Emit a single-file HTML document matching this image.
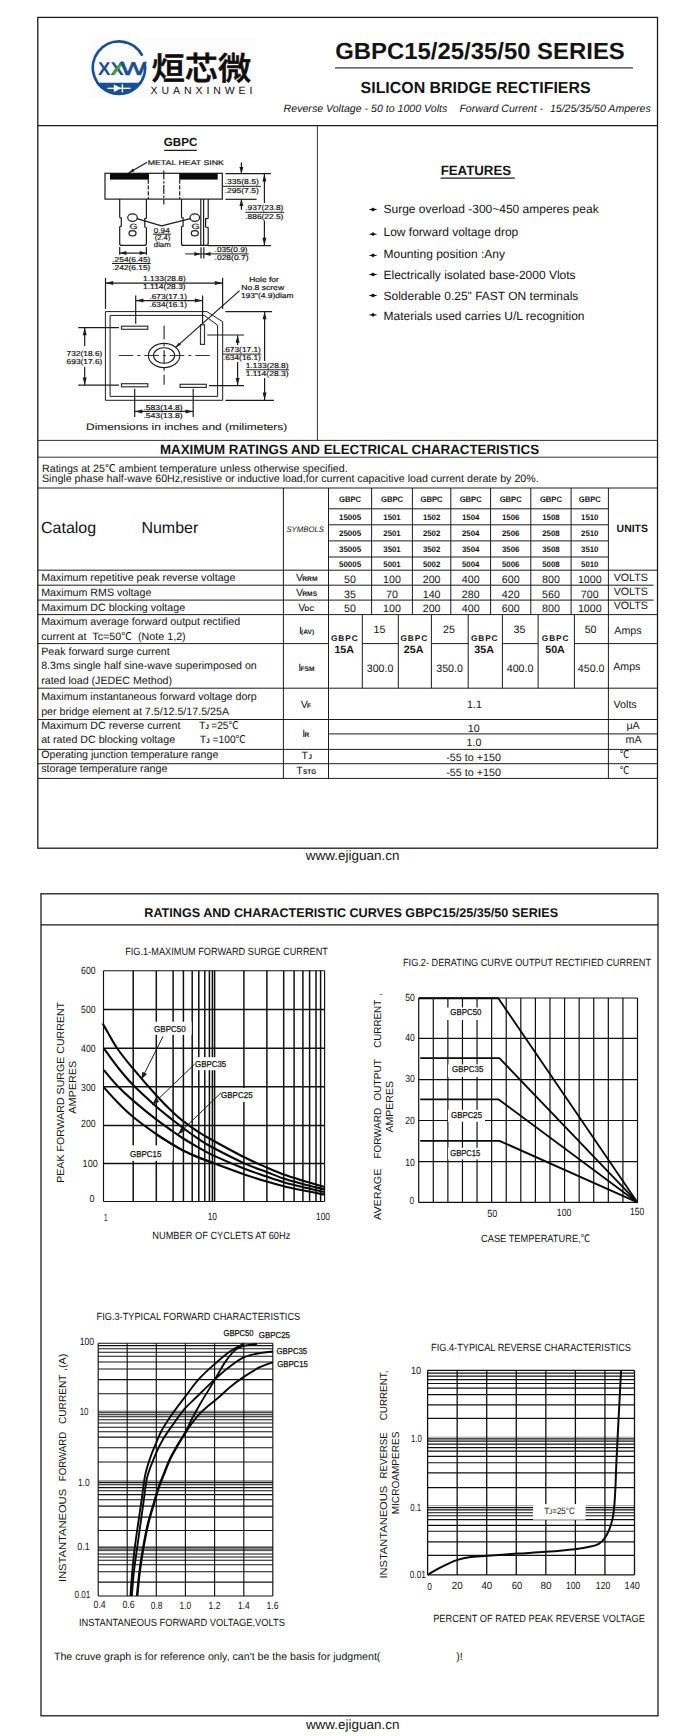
<!DOCTYPE html>
<html lang="en">
<head>
<meta charset="utf-8">
<title>GBPC15/25/35/50 SERIES - Silicon Bridge Rectifiers</title>
<style>
html,body{margin:0;padding:0;background:#fff}
body{width:694px;height:1736px;overflow:hidden;position:relative}
svg{display:block;position:absolute;left:0;top:0}
svg text{font-family:"Liberation Sans","Noto Sans CJK SC",sans-serif;fill:#141414;white-space:pre;text-rendering:geometricPrecision}
</style>
</head>
<body>
<svg width="694" height="1736" viewBox="0 0 694 1736">
<g id="page1-frame">
<rect x="37.8" y="17.4" width="619.7" height="830.8" fill="none" stroke="#1c1c1c" stroke-width="1.3"/>
<line x1="37.8" y1="125.6" x2="657.5" y2="125.6" stroke="#1c1c1c" stroke-width="1.2"/>
<line x1="317.4" y1="125.6" x2="317.4" y2="440.4" stroke="#1c1c1c" stroke-width="0.9"/>
</g>
<g id="logo">
<rect x="89.5" y="38.5" width="166" height="60" fill="#fcfcfc"/>
<path d="M144.53 61.71 A26.2 26.2 0 1 1 142.34 55.71" fill="none" stroke="#1b4f93" stroke-width="2.7"/>
<path d="M141.98 82.7 A27.5 27.5 0 0 1 96.02 82.7 Z" fill="#1b4f93"/>
<line x1="107.5" y1="88.3" x2="130.5" y2="88.3" stroke="#ffffff" stroke-width="1.3"/>
<polygon points="113.8,84.6 113.8,92 121.6,88.3" fill="#fff"/>
<line x1="122.4" y1="84.3" x2="122.4" y2="92.3" stroke="#ffffff" stroke-width="1.4"/>
<text x="98" y="74.5" font-size="18.4" font-weight="bold" style="fill:#1b4f93" textLength="12.4" lengthAdjust="spacingAndGlyphs">X</text>
<text x="110.6" y="74.5" font-size="18.4" font-weight="bold" style="fill:#1b4f93" textLength="13.2" lengthAdjust="spacingAndGlyphs">X</text>
<line x1="123" y1="61.6" x2="113" y2="74.4" stroke="#3aa63c" stroke-width="3"/>
<text x="120.4" y="74.5" font-size="18.4" style="fill:#1b4f93" stroke="#1b4f93" stroke-width="0.7" textLength="25.6" lengthAdjust="spacingAndGlyphs">W</text>
<text x="151.6" y="80" font-size="32.2" font-weight="500" style="fill:#0d0d0d" font-family='"Liberation Sans","Noto Sans CJK SC",sans-serif' stroke="#0d0d0d" stroke-width="0.6" textLength="99.6" lengthAdjust="spacingAndGlyphs">烜芯微</text>
<text x="150.6" y="93.5" font-size="10.5" style="fill:#0d0d0d" textLength="101.8" lengthAdjust="spacing">XUANXINWEI</text>
</g>
<g id="title">
<text x="335.2" y="58.5" font-size="23.4" font-weight="bold" textLength="289.6" lengthAdjust="spacingAndGlyphs">GBPC15/25/35/50 SERIES</text>
<line x1="335" y1="67.9" x2="633" y2="67.9" stroke="#3a3a3a" stroke-width="1.3"/>
<text x="360.6" y="92.6" font-size="16" font-weight="bold" textLength="230" lengthAdjust="spacingAndGlyphs">SILICON BRIDGE RECTIFIERS</text>
<text x="283.6" y="112.4" font-size="10.62" font-style="italic" textLength="163.7" lengthAdjust="spacingAndGlyphs">Reverse Voltage - 50 to 1000 Volts</text>
<text x="459.4" y="112.4" font-size="10.62" font-style="italic">Forward Current -</text>
<text x="549.9" y="112.4" font-size="10.62" font-style="italic" textLength="100.8" lengthAdjust="spacingAndGlyphs">15/25/35/50 Amperes</text>
</g>
<g id="features">
<text x="440.7" y="174.9" font-size="13.33" font-weight="bold" textLength="70.4" lengthAdjust="spacingAndGlyphs">FEATURES</text>
<line x1="440.6" y1="178.1" x2="514.8" y2="178.1" stroke="#1c1c1c" stroke-width="1.3"/>
<polygon points="368.6,209.5 371.8,208.6 373,207.4 374.2,208.6 377.4,209.5 374.2,210.4 373,211.6 371.8,210.4" fill="#111"/>
<text x="383.5" y="212.6" font-size="12">Surge overload -300~450 amperes peak</text>
<polygon points="368.6,234.2 371.8,233.3 373,232.1 374.2,233.3 377.4,234.2 374.2,235.1 373,236.3 371.8,235.1" fill="#111"/>
<text x="383.5" y="236.1" font-size="12">Low forward voltage drop</text>
<polygon points="368.6,255.4 371.8,254.5 373,253.3 374.2,254.5 377.4,255.4 374.2,256.3 373,257.5 371.8,256.3" fill="#111"/>
<text x="383.5" y="257.9" font-size="12">Mounting position :Any</text>
<polygon points="368.6,274.5 371.8,273.6 373,272.4 374.2,273.6 377.4,274.5 374.2,275.4 373,276.6 371.8,275.4" fill="#111"/>
<text x="383.5" y="278.8" font-size="12">Electrically isolated base-2000 Vlots</text>
<polygon points="368.6,295.5 371.8,294.6 373,293.4 374.2,294.6 377.4,295.5 374.2,296.4 373,297.6 371.8,296.4" fill="#111"/>
<text x="383.5" y="300.4" font-size="12">Solderable 0.25" FAST ON terminals</text>
<polygon points="368.6,314.9 371.8,314 373,312.8 374.2,314 377.4,314.9 374.2,315.8 373,317 371.8,315.8" fill="#111"/>
<text x="383.5" y="319.5" font-size="12">Materials used carries U/L recognition</text>
</g>
<g id="package-drawing">
<text x="163.8" y="145.9" font-size="11.7" font-weight="bold" textLength="33.6" lengthAdjust="spacingAndGlyphs">GBPC</text>
<line x1="164.2" y1="150.4" x2="196.8" y2="150.4" stroke="#1c1c1c" stroke-width="1.1"/>
<g id="side-view">
<text x="147.7" y="164.7" font-size="6.9" stroke="#141414" stroke-width="0.18" textLength="76.3" lengthAdjust="spacingAndGlyphs">METAL HEAT SINK</text>
<line x1="147.2" y1="162.3" x2="128.6" y2="172.9" stroke="#1c1c1c" stroke-width="1.2"/><polygon points="128.6,172.9 133.02,168.54 134.61,171.32" fill="#1c1c1c"/>
<rect x="105" y="173.3" width="117.3" height="25.8" fill="none" stroke="#1c1c1c" stroke-width="1.2"/>
<rect x="110" y="173.3" width="39" height="6.3" fill="#0a0a0a"/>
<rect x="179.2" y="173.3" width="38.5" height="6.3" fill="#0a0a0a"/>
<line x1="148.3" y1="179.6" x2="148.3" y2="199.1" stroke="#1c1c1c" stroke-width="1.2" stroke-dasharray="4.2 1.6"/>
<line x1="179.7" y1="179.6" x2="179.7" y2="199.1" stroke="#1c1c1c" stroke-width="1.2" stroke-dasharray="4.2 1.6"/>
<line x1="163.8" y1="170.6" x2="163.8" y2="204.6" stroke="#1c1c1c" stroke-width="1.2" stroke-dasharray="9 1.6 2.2 1.6"/>
<path d="M119.7 199.1 V216.9 q0 0.9 1.6 0.9 V226.1 q-1.6 0 -1.6 0.9 V243.4 q0 2 2 2 H144.4 q2 0 2 -2 V227.9 q0 -0.9 -1.6 -0.9 V218.7 q1.6 0 1.6 -0.9 V199.1" fill="none" stroke="#1c1c1c" stroke-width="1.2"/>
<path d="M181.5 199.1 V216.9 q0 0.9 1.6 0.9 V226.1 q-1.6 0 -1.6 0.9 V243.4 q0 2 2 2 H206.2 q2 0 2 -2 V227.9 q0 -0.9 -2.6 -0.9 V218.7 q2.6 0 2.6 -0.9 V199.1" fill="none" stroke="#1c1c1c" stroke-width="1.2"/>
<line x1="200.8" y1="199.1" x2="200.8" y2="245.4" stroke="#1c1c1c" stroke-width="1.2"/>
<line x1="203.6" y1="199.1" x2="203.6" y2="245.4" stroke="#1c1c1c" stroke-width="1.2"/>
<ellipse cx="132.5" cy="217.6" rx="4.8" ry="3.8" fill="none" stroke="#1c1c1c" stroke-width="1.2"/>
<ellipse cx="132.5" cy="233.3" rx="3.5" ry="2.6" fill="none" stroke="#1c1c1c" stroke-width="1.2"/>
<ellipse cx="194.8" cy="217.6" rx="4.8" ry="3.8" fill="none" stroke="#1c1c1c" stroke-width="1.2"/>
<ellipse cx="194.8" cy="233.3" rx="3.5" ry="2.6" fill="none" stroke="#1c1c1c" stroke-width="1.2"/>
<text x="129.6" y="228.5" font-size="7.6" stroke="#141414" stroke-width="0.18" textLength="8" lengthAdjust="spacingAndGlyphs">G</text>
<text x="191.5" y="228.5" font-size="7.6" stroke="#141414" stroke-width="0.18" textLength="8.2" lengthAdjust="spacingAndGlyphs">G</text>
<path d="M136.9 218.7 L161.6 225.8 L190.3 218.7" fill="none" stroke="#1c1c1c" stroke-width="1.2" stroke-linejoin="round"/>
<text x="153.8" y="232.7" font-size="7.2" stroke="#141414" stroke-width="0.18" textLength="15.9" lengthAdjust="spacingAndGlyphs">0.94</text>
<line x1="152.9" y1="234.2" x2="171.1" y2="234.2" stroke="#1c1c1c" stroke-width="1"/>
<text x="154.7" y="239.7" font-size="7.2" stroke="#141414" stroke-width="0.18" textLength="15.5" lengthAdjust="spacingAndGlyphs">(2.4)</text>
<text x="153.8" y="246.5" font-size="7.2" stroke="#141414" stroke-width="0.18" textLength="16.9" lengthAdjust="spacingAndGlyphs">diam</text>
<line x1="119.7" y1="247" x2="119.7" y2="254.8" stroke="#1c1c1c" stroke-width="1.2"/>
<line x1="146.4" y1="247" x2="146.4" y2="254.8" stroke="#1c1c1c" stroke-width="1.2"/>
<line x1="133" y1="253.1" x2="119.9" y2="253.1" stroke="#1c1c1c" stroke-width="1.2"/><polygon points="119.9,253.1 126.4,251.1 126.4,255.1" fill="#1c1c1c"/>
<line x1="133" y1="253.1" x2="146.2" y2="253.1" stroke="#1c1c1c" stroke-width="1.2"/><polygon points="146.2,253.1 139.7,255.1 139.7,251.1" fill="#1c1c1c"/>
<text x="112.3" y="261.8" font-size="7.2" stroke="#141414" stroke-width="0.18" textLength="38" lengthAdjust="spacingAndGlyphs">.254(6.45)</text>
<line x1="112" y1="263.5" x2="150.7" y2="263.5" stroke="#1c1c1c" stroke-width="1"/>
<text x="112.3" y="270.1" font-size="7.2" stroke="#141414" stroke-width="0.18" textLength="38" lengthAdjust="spacingAndGlyphs">.242(6.15)</text>
<line x1="225.4" y1="173.7" x2="270.9" y2="173.7" stroke="#1c1c1c" stroke-width="1.2"/>
<line x1="225.4" y1="199.3" x2="256.6" y2="199.3" stroke="#1c1c1c" stroke-width="1.2"/>
<line x1="208" y1="245.7" x2="271" y2="245.7" stroke="#1c1c1c" stroke-width="1.2"/>
<line x1="241.4" y1="162.4" x2="241.4" y2="173.4" stroke="#1c1c1c" stroke-width="1.2"/><polygon points="241.4,173.4 239.4,166.9 243.4,166.9" fill="#1c1c1c"/>
<line x1="241.4" y1="209.8" x2="241.4" y2="199.6" stroke="#1c1c1c" stroke-width="1.2"/><polygon points="241.4,199.6 243.4,206.1 239.4,206.1" fill="#1c1c1c"/>
<line x1="264.4" y1="203" x2="264.4" y2="174.1" stroke="#1c1c1c" stroke-width="1.2"/><polygon points="264.4,174.1 266.4,181.6 262.4,181.6" fill="#1c1c1c"/>
<line x1="264.4" y1="220.5" x2="264.4" y2="245.3" stroke="#1c1c1c" stroke-width="1.2"/><polygon points="264.4,245.3 262.4,237.8 266.4,237.8" fill="#1c1c1c"/>
<text x="224.6" y="183.7" font-size="7.2" stroke="#141414" stroke-width="0.18" textLength="34.2" lengthAdjust="spacingAndGlyphs">.335(8.5)</text>
<line x1="222.9" y1="186.3" x2="260.9" y2="186.3" stroke="#1c1c1c" stroke-width="1"/>
<text x="224.6" y="192.9" font-size="7.2" stroke="#141414" stroke-width="0.18" textLength="34.2" lengthAdjust="spacingAndGlyphs">.295(7.5)</text>
<text x="245.3" y="209.7" font-size="7.2" stroke="#141414" stroke-width="0.18" textLength="38.1" lengthAdjust="spacingAndGlyphs">.937(23.8)</text>
<line x1="245.3" y1="212.3" x2="284.2" y2="212.3" stroke="#1c1c1c" stroke-width="1"/>
<text x="245.3" y="218.6" font-size="7.2" stroke="#141414" stroke-width="0.18" textLength="38.1" lengthAdjust="spacingAndGlyphs">.886(22.5)</text>
<line x1="201" y1="247.3" x2="201" y2="258.5" stroke="#1c1c1c" stroke-width="1.2"/>
<line x1="203.8" y1="247.3" x2="203.8" y2="258.5" stroke="#1c1c1c" stroke-width="1.2"/>
<line x1="185.2" y1="253.9" x2="248.7" y2="253.9" stroke="#1c1c1c" stroke-width="1"/>
<polygon points="200.8,253.9 194.3,255.9 194.3,251.9" fill="#1c1c1c"/>
<polygon points="204,253.9 210.5,251.9 210.5,255.9" fill="#1c1c1c"/>
<text x="214.6" y="252.1" font-size="7.2" stroke="#141414" stroke-width="0.18" textLength="32.9" lengthAdjust="spacingAndGlyphs">.035(0.9)</text>
<text x="214.6" y="260.4" font-size="7.2" stroke="#141414" stroke-width="0.18" textLength="33.9" lengthAdjust="spacingAndGlyphs">.028(0.7)</text>
</g>
<g id="top-view">
<path d="M105.4 311.6 L206.9 311.6 L222.7 321.8 L222.7 400.3 L105.4 400.3 L105.4 311.6" fill="none" stroke="#1c1c1c" stroke-width="1" stroke-linejoin="round"/>
<path d="M110.1 315.4 L204.2 315.4 L217.6 325.2 L217.6 396.4 L110.1 396.4 L110.1 315.4" fill="none" stroke="#1c1c1c" stroke-width="1" stroke-linejoin="round"/>
<rect x="121.5" y="326.2" width="26.3" height="3.1" fill="none" stroke="#333" stroke-width="1.2"/>
<rect x="121.5" y="383.7" width="26.3" height="3.1" fill="none" stroke="#333" stroke-width="1.2"/>
<rect x="180.1" y="384.3" width="26.2" height="3.1" fill="none" stroke="#333" stroke-width="1.2"/>
<rect x="200.5" y="324.8" width="4" height="19.6" fill="none" stroke="#333" stroke-width="1.2"/>
<ellipse cx="164.1" cy="355.5" rx="15.7" ry="12.1" fill="none" stroke="#1c1c1c" stroke-width="1.1"/>
<ellipse cx="164.1" cy="355.5" rx="10.6" ry="7.8" fill="none" stroke="#1c1c1c" stroke-width="1.1"/>
<line x1="118.8" y1="355.5" x2="209.9" y2="355.5" stroke="#333" stroke-width="1.2" stroke-dasharray="14.5 4 3 4"/>
<line x1="164.1" y1="325.8" x2="164.1" y2="384.7" stroke="#333" stroke-width="1.2" stroke-dasharray="13.5 4 3 4"/>
<line x1="239.6" y1="290.6" x2="175.4" y2="347.6" stroke="#1c1c1c" stroke-width="1.2"/><polygon points="175.4,347.6 178.82,342.42 180.95,344.81" fill="#1c1c1c"/>
<line x1="105.5" y1="277.8" x2="105.5" y2="308.9" stroke="#1c1c1c" stroke-width="1.2"/>
<line x1="222.6" y1="277.8" x2="222.6" y2="308.9" stroke="#1c1c1c" stroke-width="1.2"/>
<line x1="164" y1="283.1" x2="105.7" y2="283.1" stroke="#1c1c1c" stroke-width="1.2"/><polygon points="105.7,283.1 113.2,281.1 113.2,285.1" fill="#1c1c1c"/>
<line x1="164" y1="283.1" x2="222.4" y2="283.1" stroke="#1c1c1c" stroke-width="1.2"/><polygon points="222.4,283.1 214.9,285.1 214.9,281.1" fill="#1c1c1c"/>
<text x="143" y="280.7" font-size="7.2" stroke="#141414" stroke-width="0.18" textLength="42.7" lengthAdjust="spacingAndGlyphs">1.133(28.8)</text>
<text x="143" y="289" font-size="7.2" stroke="#141414" stroke-width="0.18" textLength="42.7" lengthAdjust="spacingAndGlyphs">1.114(28.3)</text>
<line x1="135.7" y1="295.6" x2="135.7" y2="323.7" stroke="#1c1c1c" stroke-width="1.2"/>
<line x1="202.6" y1="295.6" x2="202.6" y2="323.9" stroke="#1c1c1c" stroke-width="1.2"/>
<line x1="169" y1="300.6" x2="135.9" y2="300.6" stroke="#1c1c1c" stroke-width="1.2"/><polygon points="135.9,300.6 143.4,298.6 143.4,302.6" fill="#1c1c1c"/>
<line x1="169" y1="300.6" x2="202.4" y2="300.6" stroke="#1c1c1c" stroke-width="1.2"/><polygon points="202.4,300.6 194.9,302.6 194.9,298.6" fill="#1c1c1c"/>
<text x="149.4" y="298.5" font-size="7.2" stroke="#141414" stroke-width="0.18" textLength="37.7" lengthAdjust="spacingAndGlyphs">.673(17.1)</text>
<text x="149.4" y="306.7" font-size="7.2" stroke="#141414" stroke-width="0.18" textLength="37.7" lengthAdjust="spacingAndGlyphs">.634(16.1)</text>
<line x1="78.2" y1="327.6" x2="119" y2="327.6" stroke="#1c1c1c" stroke-width="1.2"/>
<line x1="78.2" y1="385.1" x2="119" y2="385.1" stroke="#1c1c1c" stroke-width="1.2"/>
<line x1="84.7" y1="346" x2="84.7" y2="327.8" stroke="#1c1c1c" stroke-width="1.2"/><polygon points="84.7,327.8 86.7,335.3 82.7,335.3" fill="#1c1c1c"/>
<line x1="84.7" y1="367" x2="84.7" y2="384.9" stroke="#1c1c1c" stroke-width="1.2"/><polygon points="84.7,384.9 82.7,377.4 86.7,377.4" fill="#1c1c1c"/>
<text x="66.6" y="356" font-size="7.2" stroke="#141414" stroke-width="0.18" textLength="35.8" lengthAdjust="spacingAndGlyphs">732(18.6)</text>
<text x="66.6" y="364" font-size="7.2" stroke="#141414" stroke-width="0.18" textLength="35.8" lengthAdjust="spacingAndGlyphs">693(17.6)</text>
<line x1="134.7" y1="388.8" x2="134.7" y2="417" stroke="#1c1c1c" stroke-width="1.2"/>
<line x1="193.2" y1="388.8" x2="193.2" y2="417" stroke="#1c1c1c" stroke-width="1.2"/>
<line x1="164" y1="411.4" x2="134.9" y2="411.4" stroke="#1c1c1c" stroke-width="1.2"/><polygon points="134.9,411.4 142.4,409.4 142.4,413.4" fill="#1c1c1c"/>
<line x1="164" y1="411.4" x2="193" y2="411.4" stroke="#1c1c1c" stroke-width="1.2"/><polygon points="193,411.4 185.5,413.4 185.5,409.4" fill="#1c1c1c"/>
<text x="143.4" y="409.9" font-size="7.2" stroke="#141414" stroke-width="0.18" textLength="39.3" lengthAdjust="spacingAndGlyphs">.583(14.8)</text>
<text x="143.4" y="418.1" font-size="7.2" stroke="#141414" stroke-width="0.18" textLength="39.3" lengthAdjust="spacingAndGlyphs">.543(13.8)</text>
<line x1="207.2" y1="335" x2="244" y2="335" stroke="#1c1c1c" stroke-width="1.2"/>
<line x1="209" y1="385.6" x2="244" y2="385.6" stroke="#1c1c1c" stroke-width="1.2"/>
<line x1="237.6" y1="345" x2="237.6" y2="335.2" stroke="#1c1c1c" stroke-width="1.2"/><polygon points="237.6,335.2 239.6,342.7 235.6,342.7" fill="#1c1c1c"/>
<line x1="237.6" y1="362" x2="237.6" y2="385.4" stroke="#1c1c1c" stroke-width="1.2"/><polygon points="237.6,385.4 235.6,377.9 239.6,377.9" fill="#1c1c1c"/>
<text x="222.9" y="351.9" font-size="7.2" stroke="#141414" stroke-width="0.18" textLength="38" lengthAdjust="spacingAndGlyphs">.673(17.1)</text>
<line x1="222.9" y1="354.1" x2="261.2" y2="354.1" stroke="#1c1c1c" stroke-width="1"/>
<text x="222.9" y="360" font-size="7.2" stroke="#141414" stroke-width="0.18" textLength="38" lengthAdjust="spacingAndGlyphs">.634(16.1)</text>
<line x1="225.4" y1="311.6" x2="272.1" y2="311.6" stroke="#1c1c1c" stroke-width="1.2"/>
<line x1="225.4" y1="400.3" x2="273.9" y2="400.3" stroke="#1c1c1c" stroke-width="1.2"/>
<line x1="264.6" y1="361" x2="264.6" y2="311.8" stroke="#1c1c1c" stroke-width="1.2"/><polygon points="264.6,311.8 266.6,319.3 262.6,319.3" fill="#1c1c1c"/>
<line x1="264.6" y1="378" x2="264.6" y2="400.1" stroke="#1c1c1c" stroke-width="1.2"/><polygon points="264.6,400.1 262.6,392.6 266.6,392.6" fill="#1c1c1c"/>
<text x="245.7" y="367.8" font-size="7.2" stroke="#141414" stroke-width="0.18" textLength="42.9" lengthAdjust="spacingAndGlyphs">1.133(28.8)</text>
<line x1="245.7" y1="369.8" x2="289" y2="369.8" stroke="#1c1c1c" stroke-width="1"/>
<text x="245.7" y="376.1" font-size="7.2" stroke="#141414" stroke-width="0.18" textLength="42.9" lengthAdjust="spacingAndGlyphs">1.114(28.3)</text>
<text x="249.2" y="281.9" font-size="7.2" stroke="#141414" stroke-width="0.18" textLength="29.7" lengthAdjust="spacingAndGlyphs">Hole for</text>
<text x="241.2" y="289.8" font-size="7.2" stroke="#141414" stroke-width="0.18" textLength="42.9" lengthAdjust="spacingAndGlyphs">No.8 screw</text>
<text x="240.9" y="297.8" font-size="7.2" stroke="#141414" stroke-width="0.18" textLength="52.6" lengthAdjust="spacingAndGlyphs">193"(4.9)diam</text>
</g>
<text x="86.1" y="430" font-size="9.4" stroke="#141414" stroke-width="0.08" textLength="201.1" lengthAdjust="spacingAndGlyphs">Dimensions in inches and (milimeters)</text>
</g>
<g id="ratings-table">
<line x1="37.8" y1="440.4" x2="657.5" y2="440.4" stroke="#333" stroke-width="1"/>
<text x="159.9" y="453.7" font-size="13.33" font-weight="bold" textLength="379.2" lengthAdjust="spacingAndGlyphs">MAXIMUM RATINGS AND ELECTRICAL CHARACTERISTICS</text>
<line x1="37.8" y1="457.2" x2="657.5" y2="457.2" stroke="#333" stroke-width="1"/>
<text x="42" y="472" font-size="10.67" textLength="305.6" lengthAdjust="spacingAndGlyphs">Ratings at 25℃ ambient temperature unless otherwise specified.</text>
<text x="42" y="481.9" font-size="10.67" textLength="496.7" lengthAdjust="spacingAndGlyphs">Single phase half-wave 60Hz,resistive or inductive load,for current capacitive load current derate by 20%.</text>
<line x1="37.8" y1="488" x2="657.5" y2="488" stroke="#1c1c1c" stroke-width="1"/>
<line x1="283.4" y1="488" x2="283.4" y2="778.4" stroke="#1c1c1c" stroke-width="1"/>
<line x1="328.5" y1="488" x2="328.5" y2="778.4" stroke="#1c1c1c" stroke-width="1"/>
<line x1="371.6" y1="488" x2="371.6" y2="614.6" stroke="#1c1c1c" stroke-width="1"/>
<line x1="412.4" y1="488" x2="412.4" y2="614.6" stroke="#1c1c1c" stroke-width="1"/>
<line x1="450.8" y1="488" x2="450.8" y2="614.6" stroke="#1c1c1c" stroke-width="1"/>
<line x1="490.6" y1="488" x2="490.6" y2="614.6" stroke="#1c1c1c" stroke-width="1"/>
<line x1="530.8" y1="488" x2="530.8" y2="614.6" stroke="#1c1c1c" stroke-width="1"/>
<line x1="571.1" y1="488" x2="571.1" y2="614.6" stroke="#1c1c1c" stroke-width="1"/>
<line x1="608.4" y1="488" x2="608.4" y2="778.4" stroke="#1c1c1c" stroke-width="1"/>
<line x1="328.5" y1="508.8" x2="608.4" y2="508.8" stroke="#1c1c1c" stroke-width="1"/>
<line x1="328.5" y1="524.8" x2="608.4" y2="524.8" stroke="#1c1c1c" stroke-width="1"/>
<line x1="328.5" y1="540.9" x2="608.4" y2="540.9" stroke="#1c1c1c" stroke-width="1"/>
<line x1="328.5" y1="557" x2="608.4" y2="557" stroke="#1c1c1c" stroke-width="1"/>
<line x1="37.8" y1="570.2" x2="657.5" y2="570.2" stroke="#1c1c1c" stroke-width="1"/>
<text x="41" y="532.5" font-size="16">Catalog</text>
<text x="141.4" y="532.5" font-size="16">Number</text>
<text x="286.4" y="531.9" font-size="8" font-style="italic" textLength="37.6" lengthAdjust="spacingAndGlyphs">SYMBOLS</text>
<text x="616.6" y="532" font-size="10.67" font-weight="bold" textLength="31.3" lengthAdjust="spacingAndGlyphs">UNITS</text>
<text x="350.05" y="502.2" font-size="8" font-weight="bold" text-anchor="middle" textLength="22" lengthAdjust="spacingAndGlyphs">GBPC</text>
<text x="350.05" y="519.8" font-size="8" font-weight="bold" text-anchor="middle" textLength="22.2" lengthAdjust="spacingAndGlyphs">15005</text>
<text x="350.05" y="535.7" font-size="8" font-weight="bold" text-anchor="middle" textLength="22.2" lengthAdjust="spacingAndGlyphs">25005</text>
<text x="350.05" y="551.8" font-size="8" font-weight="bold" text-anchor="middle" textLength="22.2" lengthAdjust="spacingAndGlyphs">35005</text>
<text x="350.05" y="567" font-size="8" font-weight="bold" text-anchor="middle" textLength="22.2" lengthAdjust="spacingAndGlyphs">50005</text>
<text x="392" y="502.2" font-size="8" font-weight="bold" text-anchor="middle" textLength="22" lengthAdjust="spacingAndGlyphs">GBPC</text>
<text x="392" y="519.8" font-size="8" font-weight="bold" text-anchor="middle" textLength="17.4" lengthAdjust="spacingAndGlyphs">1501</text>
<text x="392" y="535.7" font-size="8" font-weight="bold" text-anchor="middle" textLength="17.4" lengthAdjust="spacingAndGlyphs">2501</text>
<text x="392" y="551.8" font-size="8" font-weight="bold" text-anchor="middle" textLength="17.4" lengthAdjust="spacingAndGlyphs">3501</text>
<text x="392" y="567" font-size="8" font-weight="bold" text-anchor="middle" textLength="17.4" lengthAdjust="spacingAndGlyphs">5001</text>
<text x="431.6" y="502.2" font-size="8" font-weight="bold" text-anchor="middle" textLength="22" lengthAdjust="spacingAndGlyphs">GBPC</text>
<text x="431.6" y="519.8" font-size="8" font-weight="bold" text-anchor="middle" textLength="17.4" lengthAdjust="spacingAndGlyphs">1502</text>
<text x="431.6" y="535.7" font-size="8" font-weight="bold" text-anchor="middle" textLength="17.4" lengthAdjust="spacingAndGlyphs">2502</text>
<text x="431.6" y="551.8" font-size="8" font-weight="bold" text-anchor="middle" textLength="17.4" lengthAdjust="spacingAndGlyphs">3502</text>
<text x="431.6" y="567" font-size="8" font-weight="bold" text-anchor="middle" textLength="17.4" lengthAdjust="spacingAndGlyphs">5002</text>
<text x="470.7" y="502.2" font-size="8" font-weight="bold" text-anchor="middle" textLength="22" lengthAdjust="spacingAndGlyphs">GBPC</text>
<text x="470.7" y="519.8" font-size="8" font-weight="bold" text-anchor="middle" textLength="17.4" lengthAdjust="spacingAndGlyphs">1504</text>
<text x="470.7" y="535.7" font-size="8" font-weight="bold" text-anchor="middle" textLength="17.4" lengthAdjust="spacingAndGlyphs">2504</text>
<text x="470.7" y="551.8" font-size="8" font-weight="bold" text-anchor="middle" textLength="17.4" lengthAdjust="spacingAndGlyphs">3504</text>
<text x="470.7" y="567" font-size="8" font-weight="bold" text-anchor="middle" textLength="17.4" lengthAdjust="spacingAndGlyphs">5004</text>
<text x="510.7" y="502.2" font-size="8" font-weight="bold" text-anchor="middle" textLength="22" lengthAdjust="spacingAndGlyphs">GBPC</text>
<text x="510.7" y="519.8" font-size="8" font-weight="bold" text-anchor="middle" textLength="17.4" lengthAdjust="spacingAndGlyphs">1506</text>
<text x="510.7" y="535.7" font-size="8" font-weight="bold" text-anchor="middle" textLength="17.4" lengthAdjust="spacingAndGlyphs">2506</text>
<text x="510.7" y="551.8" font-size="8" font-weight="bold" text-anchor="middle" textLength="17.4" lengthAdjust="spacingAndGlyphs">3506</text>
<text x="510.7" y="567" font-size="8" font-weight="bold" text-anchor="middle" textLength="17.4" lengthAdjust="spacingAndGlyphs">5006</text>
<text x="550.95" y="502.2" font-size="8" font-weight="bold" text-anchor="middle" textLength="22" lengthAdjust="spacingAndGlyphs">GBPC</text>
<text x="550.95" y="519.8" font-size="8" font-weight="bold" text-anchor="middle" textLength="17.4" lengthAdjust="spacingAndGlyphs">1508</text>
<text x="550.95" y="535.7" font-size="8" font-weight="bold" text-anchor="middle" textLength="17.4" lengthAdjust="spacingAndGlyphs">2508</text>
<text x="550.95" y="551.8" font-size="8" font-weight="bold" text-anchor="middle" textLength="17.4" lengthAdjust="spacingAndGlyphs">3508</text>
<text x="550.95" y="567" font-size="8" font-weight="bold" text-anchor="middle" textLength="17.4" lengthAdjust="spacingAndGlyphs">5008</text>
<text x="589.75" y="502.2" font-size="8" font-weight="bold" text-anchor="middle" textLength="22" lengthAdjust="spacingAndGlyphs">GBPC</text>
<text x="589.75" y="519.8" font-size="8" font-weight="bold" text-anchor="middle" textLength="17.4" lengthAdjust="spacingAndGlyphs">1510</text>
<text x="589.75" y="535.7" font-size="8" font-weight="bold" text-anchor="middle" textLength="17.4" lengthAdjust="spacingAndGlyphs">2510</text>
<text x="589.75" y="551.8" font-size="8" font-weight="bold" text-anchor="middle" textLength="17.4" lengthAdjust="spacingAndGlyphs">3510</text>
<text x="589.75" y="567" font-size="8" font-weight="bold" text-anchor="middle" textLength="17.4" lengthAdjust="spacingAndGlyphs">5010</text>
<line x1="37.8" y1="585.2" x2="653.6" y2="585.2" stroke="#1c1c1c" stroke-width="1"/>
<text x="41.2" y="581.1" font-size="10.67">Maximum repetitive peak reverse voltage</text>
<text x="296" y="580.8" font-size="10.67">V</text>
<text x="302.3" y="580.8" font-size="6.67" font-weight="bold">RRM</text>
<text x="350.05" y="582.6" font-size="10.67" text-anchor="middle">50</text>
<text x="392" y="582.6" font-size="10.67" text-anchor="middle">100</text>
<text x="431.6" y="582.6" font-size="10.67" text-anchor="middle">200</text>
<text x="470.7" y="582.6" font-size="10.67" text-anchor="middle">400</text>
<text x="510.7" y="582.6" font-size="10.67" text-anchor="middle">600</text>
<text x="550.95" y="582.6" font-size="10.67" text-anchor="middle">800</text>
<text x="589.75" y="582.6" font-size="10.67" text-anchor="middle">1000</text>
<text x="613.7" y="580.6" font-size="10.67">VOLTS</text>
<line x1="37.8" y1="600.1" x2="653.6" y2="600.1" stroke="#1c1c1c" stroke-width="1"/>
<text x="41.2" y="596" font-size="10.67">Maximum RMS voltage</text>
<text x="296" y="595.7" font-size="10.67">V</text>
<text x="302.3" y="595.7" font-size="6.67" font-weight="bold">RMS</text>
<text x="350.05" y="597.6" font-size="10.67" text-anchor="middle">35</text>
<text x="392" y="597.6" font-size="10.67" text-anchor="middle">70</text>
<text x="431.6" y="597.6" font-size="10.67" text-anchor="middle">140</text>
<text x="470.7" y="597.6" font-size="10.67" text-anchor="middle">280</text>
<text x="510.7" y="597.6" font-size="10.67" text-anchor="middle">420</text>
<text x="550.95" y="597.6" font-size="10.67" text-anchor="middle">560</text>
<text x="589.75" y="597.6" font-size="10.67" text-anchor="middle">700</text>
<text x="613.7" y="595.2" font-size="10.67">VOLTS</text>
<text x="41.2" y="610.8" font-size="10.67">Maximum DC blocking voltage</text>
<text x="298.3" y="610.5" font-size="10.67">V</text>
<text x="304.6" y="610.5" font-size="6.67" font-weight="bold">DC</text>
<text x="350.05" y="612.4" font-size="10.67" text-anchor="middle">50</text>
<text x="392" y="612.4" font-size="10.67" text-anchor="middle">100</text>
<text x="431.6" y="612.4" font-size="10.67" text-anchor="middle">200</text>
<text x="470.7" y="612.4" font-size="10.67" text-anchor="middle">400</text>
<text x="510.7" y="612.4" font-size="10.67" text-anchor="middle">600</text>
<text x="550.95" y="612.4" font-size="10.67" text-anchor="middle">800</text>
<text x="589.75" y="612.4" font-size="10.67" text-anchor="middle">1000</text>
<text x="613.7" y="609.4" font-size="10.67">VOLTS</text>
<line x1="37.8" y1="614.6" x2="657.5" y2="614.6" stroke="#1c1c1c" stroke-width="1"/>
<line x1="362.3" y1="614.6" x2="362.3" y2="688.2" stroke="#1c1c1c" stroke-width="1"/>
<line x1="398.3" y1="614.6" x2="398.3" y2="688.2" stroke="#1c1c1c" stroke-width="1"/>
<line x1="431.4" y1="614.6" x2="431.4" y2="688.2" stroke="#1c1c1c" stroke-width="1"/>
<line x1="468.2" y1="614.6" x2="468.2" y2="688.2" stroke="#1c1c1c" stroke-width="1"/>
<line x1="502.4" y1="614.6" x2="502.4" y2="688.2" stroke="#1c1c1c" stroke-width="1"/>
<line x1="538.1" y1="614.6" x2="538.1" y2="688.2" stroke="#1c1c1c" stroke-width="1"/>
<line x1="574.4" y1="614.6" x2="574.4" y2="688.2" stroke="#1c1c1c" stroke-width="1"/>
<line x1="37.8" y1="643.6" x2="328.5" y2="643.6" stroke="#1c1c1c" stroke-width="1"/>
<line x1="362.3" y1="643.6" x2="398.3" y2="643.6" stroke="#1c1c1c" stroke-width="1"/>
<line x1="431.4" y1="643.6" x2="468.2" y2="643.6" stroke="#1c1c1c" stroke-width="1"/>
<line x1="502.4" y1="643.6" x2="538.1" y2="643.6" stroke="#1c1c1c" stroke-width="1"/>
<line x1="574.4" y1="643.6" x2="608.4" y2="643.6" stroke="#1c1c1c" stroke-width="1"/>
<line x1="608.4" y1="643.6" x2="657.5" y2="643.6" stroke="#1c1c1c" stroke-width="1"/>
<line x1="37.8" y1="688.2" x2="657.5" y2="688.2" stroke="#1c1c1c" stroke-width="1"/>
<text x="41.2" y="625" font-size="10.67">Maximum average forward output rectified</text>
<text x="41.2" y="640.1" font-size="10.67" textLength="144.5" lengthAdjust="spacingAndGlyphs">current at  Tc=50℃  (Note 1,2)</text>
<text x="41.2" y="655" font-size="10.67">Peak forward surge current</text>
<text x="41.2" y="669.3" font-size="10.67">8.3ms single half sine-wave superimposed on</text>
<text x="41.2" y="683.8" font-size="10.67">rated load (JEDEC Method)</text>
<text x="298.9" y="634.2" font-size="10.67">I</text>
<text x="301" y="634.2" font-size="6.4" font-weight="bold" textLength="13.1" lengthAdjust="spacingAndGlyphs">(AV)</text>
<text x="298.2" y="670.5" font-size="10.67">I</text>
<text x="300.4" y="670.5" font-size="6.67" font-weight="bold" textLength="14.2" lengthAdjust="spacingAndGlyphs">FSM</text>
<text x="344.8" y="640.9" font-size="8.3" font-weight="bold" text-anchor="middle" letter-spacing="0.9">GBPC</text>
<text x="344.2" y="652.5" font-size="10.67" font-weight="bold" text-anchor="middle">15A</text>
<text x="379.5" y="633.4" font-size="10.67" text-anchor="middle">15</text>
<text x="380.1" y="671.6" font-size="10.67" text-anchor="middle">300.0</text>
<text x="414.25" y="640.9" font-size="8.3" font-weight="bold" text-anchor="middle" letter-spacing="0.9">GBPC</text>
<text x="413.65" y="652.5" font-size="10.67" font-weight="bold" text-anchor="middle">25A</text>
<text x="449" y="633.4" font-size="10.67" text-anchor="middle">25</text>
<text x="449.6" y="671.6" font-size="10.67" text-anchor="middle">350.0</text>
<text x="484.7" y="640.9" font-size="8.3" font-weight="bold" text-anchor="middle" letter-spacing="0.9">GBPC</text>
<text x="484.1" y="652.5" font-size="10.67" font-weight="bold" text-anchor="middle">35A</text>
<text x="519.45" y="633.4" font-size="10.67" text-anchor="middle">35</text>
<text x="520.05" y="671.6" font-size="10.67" text-anchor="middle">400.0</text>
<text x="555.65" y="640.9" font-size="8.3" font-weight="bold" text-anchor="middle" letter-spacing="0.9">GBPC</text>
<text x="555.05" y="652.5" font-size="10.67" font-weight="bold" text-anchor="middle">50A</text>
<text x="590.6" y="633.4" font-size="10.67" text-anchor="middle">50</text>
<text x="591.2" y="671.6" font-size="10.67" text-anchor="middle">450.0</text>
<text x="614.3" y="633.5" font-size="10.67">Amps</text>
<text x="613.2" y="669.6" font-size="10.67">Amps</text>
<text x="41.2" y="699.7" font-size="10.67">Maximum instantaneous forward voltage dorp</text>
<text x="41.2" y="714.6" font-size="10.67">per bridge element at 7.5/12.5/17.5/25A</text>
<text x="300.7" y="707.8" font-size="10.67">V</text>
<text x="307.1" y="707.8" font-size="6.67" font-weight="bold">F</text>
<text x="474.5" y="707.6" font-size="10.67" text-anchor="middle">1.1</text>
<text x="613.6" y="707.7" font-size="10.67">Volts</text>
<line x1="37.8" y1="719.5" x2="657.5" y2="719.5" stroke="#1c1c1c" stroke-width="1"/>
<text x="41.2" y="728.8" font-size="10.67">Maximum DC reverse current</text>
<text x="199" y="728.8" font-size="10.67">T</text>
<text x="205.3" y="728.8" font-size="6.67" font-weight="bold">J</text>
<text x="211.3" y="728.8" font-size="10.67" textLength="27.3" lengthAdjust="spacingAndGlyphs">=25℃</text>
<text x="41.2" y="742.8" font-size="10.67">at rated DC blocking voltage</text>
<text x="199.7" y="742.8" font-size="10.67">T</text>
<text x="206" y="742.8" font-size="6.67" font-weight="bold">J</text>
<text x="212.6" y="742.8" font-size="10.67" textLength="33.2" lengthAdjust="spacingAndGlyphs">=100℃</text>
<text x="302.3" y="737" font-size="10.67">I</text>
<text x="304.6" y="737" font-size="6.67" font-weight="bold">R</text>
<line x1="328.5" y1="733.9" x2="657.5" y2="733.9" stroke="#1c1c1c" stroke-width="1"/>
<text x="473.7" y="731.8" font-size="10.67" text-anchor="middle">10</text>
<text x="474" y="745.8" font-size="10.67" text-anchor="middle">1.0</text>
<text x="626.4" y="729.2" font-size="10.67">μA</text>
<text x="625.6" y="742.9" font-size="10.67">mA</text>
<line x1="37.8" y1="749.4" x2="657.5" y2="749.4" stroke="#1c1c1c" stroke-width="1"/>
<text x="41.2" y="758.4" font-size="10.67">Operating junction temperature range</text>
<text x="301.4" y="758.6" font-size="10.67">T</text>
<text x="308.2" y="758.6" font-size="6.67" font-weight="bold">J</text>
<text x="473.6" y="760.8" font-size="10.67" text-anchor="middle" textLength="54.6" lengthAdjust="spacingAndGlyphs">-55 to +150</text>
<text x="619.8" y="757.9" font-size="10.67" textLength="9.6" lengthAdjust="spacingAndGlyphs">℃</text>
<line x1="37.8" y1="763.7" x2="657.5" y2="763.7" stroke="#1c1c1c" stroke-width="1"/>
<text x="41.2" y="772" font-size="10.67">storage temperature range</text>
<text x="296.3" y="773.6" font-size="10.67">T</text>
<text x="303" y="773.6" font-size="6.67" font-weight="bold" textLength="13.1" lengthAdjust="spacingAndGlyphs">STG</text>
<text x="473.6" y="775.8" font-size="10.67" text-anchor="middle" textLength="54.6" lengthAdjust="spacingAndGlyphs">-55 to +150</text>
<text x="619.8" y="773.5" font-size="10.67" textLength="9.6" lengthAdjust="spacingAndGlyphs">℃</text>
<line x1="37.8" y1="778.4" x2="657.5" y2="778.4" stroke="#1c1c1c" stroke-width="1"/>
</g>
<text x="352.6" y="860.2" font-size="13.33" text-anchor="middle" textLength="93.6" lengthAdjust="spacingAndGlyphs">www.ejiguan.cn</text>
<g id="page2-frame">
<rect x="41" y="893.8" width="617" height="822" fill="none" stroke="#1c1c1c" stroke-width="1.3"/>
<line x1="41" y1="924.8" x2="658" y2="924.8" stroke="#1c1c1c" stroke-width="1.2"/>
<text x="144.3" y="917.4" font-size="12.6" font-weight="bold" textLength="413.8" lengthAdjust="spacingAndGlyphs">RATINGS AND CHARACTERISTIC CURVES GBPC15/25/35/50 SERIES</text>
<text x="53.9" y="1659.7" font-size="10.67" textLength="326.5" lengthAdjust="spacingAndGlyphs">The cruve graph is for reference only, can't be the basis for judgment(</text>
<text x="456.2" y="1659.7" font-size="10.67">)!</text>
<text x="352.7" y="1729" font-size="13.33" text-anchor="middle" textLength="93.6" lengthAdjust="spacingAndGlyphs">www.ejiguan.cn</text>
</g>
<g id="fig1">
<text x="125.2" y="954.6" font-size="10.4" textLength="202.8" lengthAdjust="spacingAndGlyphs">FIG.1-MAXIMUM FORWARD SURGE CURRENT</text>
<line x1="103.5" y1="970.7" x2="103.5" y2="1201.5" stroke="#111" stroke-width="1.15"/>
<line x1="133.2" y1="970.7" x2="133.2" y2="1201.5" stroke="#111" stroke-width="1.5"/>
<line x1="156.3" y1="970.7" x2="156.3" y2="1201.5" stroke="#111" stroke-width="1.5"/>
<line x1="173.1" y1="970.7" x2="173.1" y2="1201.5" stroke="#111" stroke-width="1.5"/>
<line x1="183.4" y1="970.7" x2="183.4" y2="1201.5" stroke="#111" stroke-width="1.5"/>
<line x1="192.2" y1="970.7" x2="192.2" y2="1201.5" stroke="#111" stroke-width="1.5"/>
<line x1="198.8" y1="970.7" x2="198.8" y2="1201.5" stroke="#111" stroke-width="1.5"/>
<line x1="204.8" y1="970.7" x2="204.8" y2="1201.5" stroke="#111" stroke-width="1.5"/>
<line x1="209.4" y1="970.7" x2="209.4" y2="1201.5" stroke="#111" stroke-width="1.5"/>
<line x1="212.4" y1="970.7" x2="212.4" y2="1201.5" stroke="#111" stroke-width="1.5"/>
<line x1="214.6" y1="970.7" x2="214.6" y2="1201.5" stroke="#111" stroke-width="1.5"/>
<line x1="243.9" y1="970.7" x2="243.9" y2="1201.5" stroke="#111" stroke-width="1.5"/>
<line x1="266.9" y1="970.7" x2="266.9" y2="1201.5" stroke="#111" stroke-width="1.5"/>
<line x1="283.7" y1="970.7" x2="283.7" y2="1201.5" stroke="#111" stroke-width="1.5"/>
<line x1="294.1" y1="970.7" x2="294.1" y2="1201.5" stroke="#111" stroke-width="1.5"/>
<line x1="302.9" y1="970.7" x2="302.9" y2="1201.5" stroke="#111" stroke-width="1.5"/>
<line x1="309.6" y1="970.7" x2="309.6" y2="1201.5" stroke="#111" stroke-width="1.5"/>
<line x1="316" y1="970.7" x2="316" y2="1201.5" stroke="#111" stroke-width="1.5"/>
<line x1="320.6" y1="970.7" x2="320.6" y2="1201.5" stroke="#111" stroke-width="1.5"/>
<line x1="324.6" y1="970.7" x2="324.6" y2="1201.5" stroke="#111" stroke-width="1.15"/>
<line x1="103.5" y1="970.7" x2="324.6" y2="970.7" stroke="#111" stroke-width="1.15"/>
<line x1="103.5" y1="1009.4" x2="324.6" y2="1009.4" stroke="#111" stroke-width="1.5"/>
<line x1="103.5" y1="1048.3" x2="324.6" y2="1048.3" stroke="#111" stroke-width="1.5"/>
<line x1="103.5" y1="1086.8" x2="324.6" y2="1086.8" stroke="#111" stroke-width="1.5"/>
<line x1="103.5" y1="1125.4" x2="324.6" y2="1125.4" stroke="#111" stroke-width="1.5"/>
<line x1="103.5" y1="1163.5" x2="324.6" y2="1163.5" stroke="#111" stroke-width="1.5"/>
<line x1="103.5" y1="1201.5" x2="324.6" y2="1201.5" stroke="#111" stroke-width="1.15"/>
<path d="M102.8 1023.6 C103.08 1024.1 102.08 1022.45 104.5 1026.6 C106.92 1030.75 112.57 1041.53 117.3 1048.5 C122.03 1055.47 126.42 1060.62 132.9 1068.4 C139.38 1076.18 149.5 1087.85 156.2 1095.2 C162.9 1102.55 168.58 1108.17 173.1 1112.5 C177.62 1116.83 179.05 1117.92 183.3 1121.2 C187.55 1124.48 193.62 1128.97 198.6 1132.2 C203.58 1135.43 205.67 1136.47 213.2 1140.6 C220.73 1144.73 234.87 1152.52 243.8 1157 C252.73 1161.48 260.13 1164.57 266.8 1167.5 C273.47 1170.43 277.85 1172.42 283.8 1174.6 C289.75 1176.78 295.72 1178.55 302.5 1180.6 C309.28 1182.65 320.83 1185.85 324.5 1186.9" fill="none" stroke="#0a0a0a" stroke-width="2.1" stroke-linecap="butt"/>
<path d="M103.9 1048.5 C106.13 1051.53 112.47 1060.65 117.3 1066.7 C122.13 1072.75 126.42 1078.17 132.9 1084.8 C139.38 1091.43 149.5 1100.58 156.2 1106.5 C162.9 1112.42 168.58 1116.7 173.1 1120.3 C177.62 1123.9 179.05 1124.98 183.3 1128.1 C187.55 1131.22 193.62 1135.72 198.6 1139 C203.58 1142.28 205.67 1143.78 213.2 1147.8 C220.73 1151.82 234.87 1159.05 243.8 1163.1 C252.73 1167.15 260.13 1169.52 266.8 1172.1 C273.47 1174.68 277.85 1176.62 283.8 1178.6 C289.75 1180.58 295.72 1182.2 302.5 1184 C309.28 1185.8 320.83 1188.5 324.5 1189.4" fill="none" stroke="#0a0a0a" stroke-width="2.1" stroke-linecap="butt"/>
<path d="M103.9 1070.1 C106.13 1072.7 112.47 1080.65 117.3 1085.7 C122.13 1090.75 126.42 1094.78 132.9 1100.4 C139.38 1106.02 149.5 1114.22 156.2 1119.4 C162.9 1124.58 168.58 1128.32 173.1 1131.5 C177.62 1134.68 179.05 1135.82 183.3 1138.5 C187.55 1141.18 193.62 1144.78 198.6 1147.6 C203.58 1150.42 205.67 1151.92 213.2 1155.4 C220.73 1158.88 234.87 1164.97 243.8 1168.5 C252.73 1172.03 260.13 1174.32 266.8 1176.6 C273.47 1178.88 277.85 1180.45 283.8 1182.2 C289.75 1183.95 295.72 1185.47 302.5 1187.1 C309.28 1188.73 320.83 1191.18 324.5 1192" fill="none" stroke="#0a0a0a" stroke-width="2.1" stroke-linecap="butt"/>
<path d="M103.9 1087.4 C106.13 1089.85 112.47 1097.2 117.3 1102.1 C122.13 1107 126.42 1111.47 132.9 1116.8 C139.38 1122.13 149.5 1129.43 156.2 1134.1 C162.9 1138.77 168.58 1142.05 173.1 1144.8 C177.62 1147.55 179.05 1148.48 183.3 1150.6 C187.55 1152.72 193.62 1155.43 198.6 1157.5 C203.58 1159.57 205.67 1160.22 213.2 1163 C220.73 1165.78 234.87 1171.1 243.8 1174.2 C252.73 1177.3 260.13 1179.58 266.8 1181.6 C273.47 1183.62 277.85 1184.85 283.8 1186.3 C289.75 1187.75 295.72 1188.92 302.5 1190.3 C309.28 1191.68 320.83 1193.88 324.5 1194.6" fill="none" stroke="#0a0a0a" stroke-width="2.1" stroke-linecap="butt"/>
<rect x="151.9" y="1021.7" width="39.7" height="13.2" fill="#fff"/>
<text x="154.1" y="1031.8" font-size="8.6" stroke="#141414" stroke-width="0.25" textLength="31.6" lengthAdjust="spacingAndGlyphs">GBPC50</text>
<line x1="163.1" y1="1036.2" x2="141.3" y2="1079.6" stroke="#1c1c1c" stroke-width="1"/><polygon points="141.3,1079.6 142.34,1071.73 146.99,1074.07" fill="#1c1c1c"/>
<rect x="193.2" y="1057.2" width="36" height="13" fill="#fff"/>
<text x="195.1" y="1066.6" font-size="8.6" stroke="#141414" stroke-width="0.25" textLength="31.1" lengthAdjust="spacingAndGlyphs">GBPC35</text>
<line x1="194.6" y1="1064.2" x2="152" y2="1105" stroke="#1c1c1c" stroke-width="1"/><polygon points="152,1105 155.62,1097.93 159.21,1101.69" fill="#1c1c1c"/>
<rect x="220" y="1088" width="41" height="14" fill="#fff"/>
<text x="221.1" y="1097.8" font-size="8.6" stroke="#141414" stroke-width="0.25" textLength="31.5" lengthAdjust="spacingAndGlyphs">GBPC25</text>
<line x1="221" y1="1092.8" x2="177.9" y2="1134.4" stroke="#1c1c1c" stroke-width="1"/><polygon points="177.9,1134.4 181.49,1127.32 185.1,1131.06" fill="#1c1c1c"/>
<rect x="105.2" y="1145.4" width="67.4" height="15.5" fill="#fff"/>
<text x="130.1" y="1156.7" font-size="8.6" stroke="#141414" stroke-width="0.25" textLength="31.2" lengthAdjust="spacingAndGlyphs">GBPC15</text>
<path d="M156.2 1134.1 C159.02 1135.88 168.58 1142.05 173.1 1144.8 C177.62 1147.55 179.05 1148.48 183.3 1150.6 C187.55 1152.72 193.62 1155.43 198.6 1157.5 C203.58 1159.57 210.77 1162.08 213.2 1163" fill="none" stroke="#0a0a0a" stroke-width="2.1"/>
<text x="81.1" y="973.8" font-size="10.4" textLength="14.5" lengthAdjust="spacingAndGlyphs">600</text>
<text x="81.1" y="1013.2" font-size="10.4" textLength="14.5" lengthAdjust="spacingAndGlyphs">500</text>
<text x="81.1" y="1052" font-size="10.4" textLength="14.5" lengthAdjust="spacingAndGlyphs">400</text>
<text x="81.1" y="1090.8" font-size="10.4" textLength="14.5" lengthAdjust="spacingAndGlyphs">300</text>
<text x="81.1" y="1126.9" font-size="10.4" textLength="14.5" lengthAdjust="spacingAndGlyphs">200</text>
<text x="82.6" y="1166.6" font-size="10.4" textLength="15.2" lengthAdjust="spacingAndGlyphs">100</text>
<text x="89.4" y="1201.6" font-size="10.4" textLength="5" lengthAdjust="spacingAndGlyphs">0</text>
<text x="104.1" y="1221.3" font-size="10.4" textLength="3.5" lengthAdjust="spacingAndGlyphs">1</text>
<text x="207.7" y="1219.6" font-size="10.4" textLength="9.3" lengthAdjust="spacingAndGlyphs">10</text>
<text x="316" y="1219.6" font-size="10.4" textLength="14" lengthAdjust="spacingAndGlyphs">100</text>
<text x="152.3" y="1238.6" font-size="10.4" textLength="138" lengthAdjust="spacingAndGlyphs">NUMBER OF CYCLETS AT 60Hz</text>
<text x="64" y="1182.8" font-size="10.3" textLength="180.9" lengthAdjust="spacingAndGlyphs" transform="rotate(-90 64 1182.8)">PEAK FORWARD SURGE CURRENT</text>
<text x="76.2" y="1113.7" font-size="10.3" textLength="53" lengthAdjust="spacingAndGlyphs" transform="rotate(-90 76.2 1113.7)">AMPERES</text>
</g>
<g id="fig2">
<text x="403" y="965.8" font-size="10.4" textLength="248" lengthAdjust="spacingAndGlyphs">FIG.2- DERATING CURVE OUTPUT RECTIFIED CURRENT</text>
<line x1="418.7" y1="998" x2="418.7" y2="1202.4" stroke="#111" stroke-width="1.2"/>
<line x1="433.29" y1="998" x2="433.29" y2="1202.4" stroke="#111" stroke-width="1.2"/>
<line x1="447.87" y1="998" x2="447.87" y2="1202.4" stroke="#111" stroke-width="1.2"/>
<line x1="462.46" y1="998" x2="462.46" y2="1202.4" stroke="#111" stroke-width="1.2"/>
<line x1="477.05" y1="998" x2="477.05" y2="1202.4" stroke="#111" stroke-width="1.2"/>
<line x1="491.63" y1="998" x2="491.63" y2="1202.4" stroke="#111" stroke-width="1.2"/>
<line x1="506.22" y1="998" x2="506.22" y2="1202.4" stroke="#111" stroke-width="1.2"/>
<line x1="520.81" y1="998" x2="520.81" y2="1202.4" stroke="#111" stroke-width="1.2"/>
<line x1="535.39" y1="998" x2="535.39" y2="1202.4" stroke="#111" stroke-width="1.2"/>
<line x1="549.98" y1="998" x2="549.98" y2="1202.4" stroke="#111" stroke-width="1.2"/>
<line x1="564.57" y1="998" x2="564.57" y2="1202.4" stroke="#111" stroke-width="1.2"/>
<line x1="579.15" y1="998" x2="579.15" y2="1202.4" stroke="#111" stroke-width="1.2"/>
<line x1="593.74" y1="998" x2="593.74" y2="1202.4" stroke="#111" stroke-width="1.2"/>
<line x1="608.33" y1="998" x2="608.33" y2="1202.4" stroke="#111" stroke-width="1.2"/>
<line x1="622.91" y1="998" x2="622.91" y2="1202.4" stroke="#111" stroke-width="1.2"/>
<line x1="637.5" y1="998" x2="637.5" y2="1202.4" stroke="#111" stroke-width="1.2"/>
<line x1="418.7" y1="998" x2="637.5" y2="998" stroke="#111" stroke-width="1.2"/>
<line x1="418.7" y1="1038.4" x2="637.5" y2="1038.4" stroke="#111" stroke-width="1.2"/>
<line x1="418.7" y1="1079.6" x2="637.5" y2="1079.6" stroke="#111" stroke-width="1.2"/>
<line x1="418.7" y1="1120.5" x2="637.5" y2="1120.5" stroke="#111" stroke-width="1.2"/>
<line x1="418.7" y1="1161.7" x2="637.5" y2="1161.7" stroke="#111" stroke-width="1.2"/>
<line x1="418.7" y1="1202.4" x2="637.5" y2="1202.4" stroke="#111" stroke-width="1.2"/>
<path d="M418.7 998.2 L498.3 998.2 L637.5 1202.4" fill="none" stroke="#0a0a0a" stroke-width="1.85" stroke-linejoin="round"/>
<path d="M420.2 1058.1 L499.4 1058.1 L637.5 1202.4" fill="none" stroke="#0a0a0a" stroke-width="1.85" stroke-linejoin="round"/>
<path d="M420.2 1099.3 L498.4 1099.3 L637.5 1202.4" fill="none" stroke="#0a0a0a" stroke-width="1.85" stroke-linejoin="round"/>
<path d="M420.2 1140.8 L499.4 1140.8 L637.5 1202.4" fill="none" stroke="#0a0a0a" stroke-width="1.85" stroke-linejoin="round"/>
<rect x="447" y="1007.5" width="38" height="12.5" fill="#fff"/>
<text x="450.3" y="1014.9" font-size="8.6" stroke="#141414" stroke-width="0.25" textLength="31.1" lengthAdjust="spacingAndGlyphs">GBPC50</text>
<rect x="448" y="1064.5" width="38" height="12.5" fill="#fff"/>
<text x="452.1" y="1071.8" font-size="8.6" stroke="#141414" stroke-width="0.25" textLength="31.2" lengthAdjust="spacingAndGlyphs">GBPC35</text>
<rect x="448" y="1109.8" width="37" height="12" fill="#fff"/>
<text x="451" y="1117.7" font-size="8.6" stroke="#141414" stroke-width="0.25" textLength="31.1" lengthAdjust="spacingAndGlyphs">GBPC25</text>
<rect x="448" y="1147.8" width="34.5" height="11.6" fill="#fff"/>
<text x="450.3" y="1155.7" font-size="8.6" stroke="#141414" stroke-width="0.25" textLength="30" lengthAdjust="spacingAndGlyphs">GBPC15</text>
<text x="405.2" y="1001" font-size="10.4" textLength="9.6" lengthAdjust="spacingAndGlyphs">50</text>
<text x="405.2" y="1041.1" font-size="10.4" textLength="9.6" lengthAdjust="spacingAndGlyphs">40</text>
<text x="405.2" y="1082" font-size="10.4" textLength="9.6" lengthAdjust="spacingAndGlyphs">30</text>
<text x="405.2" y="1124.4" font-size="10.4" textLength="9.6" lengthAdjust="spacingAndGlyphs">20</text>
<text x="405.2" y="1165.5" font-size="10.4" textLength="9.6" lengthAdjust="spacingAndGlyphs">10</text>
<text x="409.4" y="1204.1" font-size="10.4" textLength="4.6" lengthAdjust="spacingAndGlyphs">0</text>
<text x="487.2" y="1217.3" font-size="10.4" textLength="10" lengthAdjust="spacingAndGlyphs">50</text>
<text x="556.8" y="1215.8" font-size="10.4" textLength="14.6" lengthAdjust="spacingAndGlyphs">100</text>
<text x="630" y="1214.5" font-size="10.4" textLength="14.2" lengthAdjust="spacingAndGlyphs">150</text>
<text x="481" y="1241.6" font-size="10.4" textLength="109" lengthAdjust="spacingAndGlyphs">CASE TEMPERATURE,℃</text>
<text x="381.2" y="1220" font-size="10.2" textLength="51.5" lengthAdjust="spacingAndGlyphs" transform="rotate(-90 381.2 1220)">AVERAGE</text>
<text x="381.2" y="1158.6" font-size="10.2" textLength="50.8" lengthAdjust="spacingAndGlyphs" transform="rotate(-90 381.2 1158.6)">FORWARD</text>
<text x="381.2" y="1100.7" font-size="10.2" textLength="41.6" lengthAdjust="spacingAndGlyphs" transform="rotate(-90 381.2 1100.7)">OUTPUT</text>
<text x="381.2" y="1047.8" font-size="10.2" textLength="48" lengthAdjust="spacingAndGlyphs" transform="rotate(-90 381.2 1047.8)">CURRENT</text>
<text x="381.2" y="995.8" font-size="10.2" textLength="2.4" lengthAdjust="spacingAndGlyphs" transform="rotate(-90 381.2 995.8)">,</text>
<text x="392.5" y="1132.5" font-size="10.2" textLength="51.5" lengthAdjust="spacingAndGlyphs" transform="rotate(-90 392.5 1132.5)">AMPERES</text>
</g>
<g id="fig3">
<text x="96.5" y="1319.6" font-size="10.4" textLength="203.7" lengthAdjust="spacingAndGlyphs">FIG.3-TYPICAL FORWARD CHARACTERISTICS</text>
<rect x="98.2" y="1410.6" width="174.6" height="1.6" fill="#8a8a8a"/>
<rect x="98.2" y="1480.2" width="174.6" height="1.6" fill="#8a8a8a"/>
<rect x="98.2" y="1546.2" width="174.6" height="5" fill="#8a8a8a"/>
<line x1="98.2" y1="1547.4" x2="272.8" y2="1547.4" stroke="#333" stroke-width="0.9"/>
<line x1="98.2" y1="1550.2" x2="272.8" y2="1550.2" stroke="#333" stroke-width="0.9"/>
<line x1="98.2" y1="1343.3" x2="272.8" y2="1343.3" stroke="#111" stroke-width="1.05"/>
<line x1="98.2" y1="1345.6" x2="272.8" y2="1345.6" stroke="#111" stroke-width="1.05"/>
<line x1="98.2" y1="1348.7" x2="272.8" y2="1348.7" stroke="#111" stroke-width="1.05"/>
<line x1="98.2" y1="1352.3" x2="272.8" y2="1352.3" stroke="#111" stroke-width="1.05"/>
<line x1="98.2" y1="1356.3" x2="272.8" y2="1356.3" stroke="#111" stroke-width="1.05"/>
<line x1="98.2" y1="1362" x2="272.8" y2="1362" stroke="#111" stroke-width="1.05"/>
<line x1="98.2" y1="1369" x2="272.8" y2="1369" stroke="#111" stroke-width="1.05"/>
<line x1="98.2" y1="1379.6" x2="272.8" y2="1379.6" stroke="#111" stroke-width="1.05"/>
<line x1="98.2" y1="1393.7" x2="272.8" y2="1393.7" stroke="#111" stroke-width="1.05"/>
<line x1="98.2" y1="1412.8" x2="272.8" y2="1412.8" stroke="#111" stroke-width="1.05"/>
<line x1="98.2" y1="1414.7" x2="272.8" y2="1414.7" stroke="#111" stroke-width="1.05"/>
<line x1="98.2" y1="1416.8" x2="272.8" y2="1416.8" stroke="#111" stroke-width="1.05"/>
<line x1="98.2" y1="1419.7" x2="272.8" y2="1419.7" stroke="#111" stroke-width="1.05"/>
<line x1="98.2" y1="1423" x2="272.8" y2="1423" stroke="#111" stroke-width="1.05"/>
<line x1="98.2" y1="1427.2" x2="272.8" y2="1427.2" stroke="#111" stroke-width="1.05"/>
<line x1="98.2" y1="1431.8" x2="272.8" y2="1431.8" stroke="#111" stroke-width="1.05"/>
<line x1="98.2" y1="1437.1" x2="272.8" y2="1437.1" stroke="#111" stroke-width="1.05"/>
<line x1="98.2" y1="1447.7" x2="272.8" y2="1447.7" stroke="#111" stroke-width="1.05"/>
<line x1="98.2" y1="1462" x2="272.8" y2="1462" stroke="#111" stroke-width="1.05"/>
<line x1="98.2" y1="1482.6" x2="272.8" y2="1482.6" stroke="#111" stroke-width="1.05"/>
<line x1="98.2" y1="1484.8" x2="272.8" y2="1484.8" stroke="#111" stroke-width="1.05"/>
<line x1="98.2" y1="1487.6" x2="272.8" y2="1487.6" stroke="#111" stroke-width="1.05"/>
<line x1="98.2" y1="1490.7" x2="272.8" y2="1490.7" stroke="#111" stroke-width="1.05"/>
<line x1="98.2" y1="1494.6" x2="272.8" y2="1494.6" stroke="#111" stroke-width="1.05"/>
<line x1="98.2" y1="1499.8" x2="272.8" y2="1499.8" stroke="#111" stroke-width="1.05"/>
<line x1="98.2" y1="1506.1" x2="272.8" y2="1506.1" stroke="#111" stroke-width="1.05"/>
<line x1="98.2" y1="1517.1" x2="272.8" y2="1517.1" stroke="#111" stroke-width="1.05"/>
<line x1="98.2" y1="1530.4" x2="272.8" y2="1530.4" stroke="#111" stroke-width="1.05"/>
<line x1="98.2" y1="1554" x2="272.8" y2="1554" stroke="#111" stroke-width="1.05"/>
<line x1="98.2" y1="1556.9" x2="272.8" y2="1556.9" stroke="#111" stroke-width="1.05"/>
<line x1="98.2" y1="1560.3" x2="272.8" y2="1560.3" stroke="#111" stroke-width="1.05"/>
<line x1="98.2" y1="1564.8" x2="272.8" y2="1564.8" stroke="#111" stroke-width="1.05"/>
<line x1="98.2" y1="1571.8" x2="272.8" y2="1571.8" stroke="#111" stroke-width="1.05"/>
<line x1="98.2" y1="1582.1" x2="272.8" y2="1582.1" stroke="#111" stroke-width="1.05"/>
<line x1="98.2" y1="1596" x2="272.8" y2="1596" stroke="#111" stroke-width="1.05"/>
<line x1="98.2" y1="1343.3" x2="98.2" y2="1596" stroke="#111" stroke-width="1.15"/>
<line x1="127.2" y1="1343.3" x2="127.2" y2="1596" stroke="#111" stroke-width="1.15"/>
<line x1="156.3" y1="1343.3" x2="156.3" y2="1596" stroke="#111" stroke-width="1.15"/>
<line x1="185.4" y1="1343.3" x2="185.4" y2="1596" stroke="#111" stroke-width="1.15"/>
<line x1="214.6" y1="1343.3" x2="214.6" y2="1596" stroke="#111" stroke-width="1.15"/>
<line x1="243.8" y1="1343.3" x2="243.8" y2="1596" stroke="#111" stroke-width="1.15"/>
<line x1="272.8" y1="1343.3" x2="272.8" y2="1596" stroke="#111" stroke-width="1.15"/>
<path d="M130.4 1596 C130.7 1592.15 131.52 1580.58 132.2 1572.9 C132.88 1565.22 133.53 1557.97 134.5 1549.9 C135.47 1541.83 136.82 1532.82 138 1524.5 C139.18 1516.18 140.4 1508.25 141.6 1500 C142.8 1491.75 143.75 1482.05 145.2 1475 C146.65 1467.95 148.5 1462.98 150.3 1457.7 C152.1 1452.42 154.08 1447.87 156 1443.3 C157.92 1438.73 159.15 1435.1 161.8 1430.3 C164.45 1425.5 168.07 1420.02 171.9 1414.5 C175.73 1408.98 180.32 1403.08 184.8 1397.2 C189.28 1391.32 193.85 1384.7 198.8 1379.2 C203.75 1373.7 209.32 1368.82 214.5 1364.2 C219.68 1359.58 225.02 1354.92 229.9 1351.5 C234.78 1348.08 241.48 1345 243.8 1343.7" fill="none" stroke="#0a0a0a" stroke-width="1.9"/>
<path d="M131.8 1596 C132.13 1592.15 132.97 1580.58 133.8 1572.9 C134.63 1565.22 135.7 1557.97 136.8 1549.9 C137.9 1541.83 139.23 1532.82 140.4 1524.5 C141.57 1516.18 142.63 1508 143.8 1500 C144.97 1492 145.37 1484.27 147.4 1476.5 C149.43 1468.73 153.37 1459.65 156 1453.4 C158.63 1447.15 160.55 1443.57 163.2 1439 C165.85 1434.43 168.3 1431.05 171.9 1426 C175.5 1420.95 180.72 1413.5 184.8 1408.7 C188.88 1403.9 191.45 1402.05 196.4 1397.2 C201.35 1392.35 208.92 1384.72 214.5 1379.6 C220.08 1374.48 225.02 1370.22 229.9 1366.5 C234.78 1362.78 238.8 1359.53 243.8 1357.3 C248.8 1355.07 255.07 1354.07 259.9 1353.1 C264.73 1352.13 270.65 1351.77 272.8 1351.5" fill="none" stroke="#0a0a0a" stroke-width="1.9"/>
<path d="M136.8 1596 C137.2 1592.15 138.23 1580.58 139.2 1572.9 C140.17 1565.22 141.2 1557.97 142.6 1549.9 C144 1541.83 145.6 1532.82 147.6 1524.5 C149.6 1516.18 152.83 1506.08 154.6 1500 C156.37 1493.92 156.77 1492.17 158.2 1488 C159.63 1483.83 161.17 1480.05 163.2 1475 C165.23 1469.95 168 1462.73 170.4 1457.7 C172.8 1452.67 175.07 1449.12 177.6 1444.8 C180.13 1440.48 183.2 1436.13 185.6 1431.8 C188 1427.47 189.48 1423.6 192 1418.8 C194.52 1414 196.95 1409.42 200.7 1403 C204.45 1396.58 210.4 1387.15 214.5 1380.3 C218.6 1373.45 221.77 1367.02 225.3 1361.9 C228.83 1356.78 232.62 1352.27 235.7 1349.6 C238.78 1346.93 240.23 1346.85 243.8 1345.9 C247.37 1344.95 254.88 1344.23 257.1 1343.9" fill="none" stroke="#0a0a0a" stroke-width="1.9"/>
<path d="M137.4 1596 C137.8 1592.15 138.83 1580.58 139.8 1572.9 C140.77 1565.22 141.8 1557.97 143.2 1549.9 C144.6 1541.83 146.2 1532.82 148.2 1524.5 C150.2 1516.18 153.43 1506.08 155.2 1500 C156.97 1493.92 157.37 1492.17 158.8 1488 C160.23 1483.83 161.77 1480.05 163.8 1475 C165.83 1469.95 168.6 1462.73 171 1457.7 C173.4 1452.67 175.7 1449.05 178.2 1444.8 C180.7 1440.55 183.7 1435.82 186 1432.2 C188.3 1428.58 189.55 1426.37 192 1423.1 C194.45 1419.83 197.82 1415.62 200.7 1412.6 C203.58 1409.58 206.08 1407.73 209.3 1405 C212.52 1402.27 216.57 1399.17 220 1396.2 C223.43 1393.23 225.93 1390.42 229.9 1387.2 C233.87 1383.98 238.8 1380.23 243.8 1376.9 C248.8 1373.57 255.07 1369.63 259.9 1367.2 C264.73 1364.77 270.65 1363.12 272.8 1362.3" fill="none" stroke="#0a0a0a" stroke-width="1.9"/>
<text x="223.5" y="1335.8" font-size="8.6" stroke="#141414" stroke-width="0.25" textLength="30" lengthAdjust="spacingAndGlyphs">GBPC50</text>
<text x="258.8" y="1337.7" font-size="8.6" stroke="#141414" stroke-width="0.25" textLength="31.1" lengthAdjust="spacingAndGlyphs">GBPC25</text>
<text x="276.5" y="1353.8" font-size="8.6" stroke="#141414" stroke-width="0.25" textLength="30.7" lengthAdjust="spacingAndGlyphs">GBPC35</text>
<text x="277.2" y="1366.5" font-size="8.6" stroke="#141414" stroke-width="0.25" textLength="30.7" lengthAdjust="spacingAndGlyphs">GBPC15</text>
<text x="79.7" y="1345.2" font-size="10.4" textLength="14.5" lengthAdjust="spacingAndGlyphs">100</text>
<text x="79.7" y="1414.5" font-size="10.4" textLength="8.8" lengthAdjust="spacingAndGlyphs">10</text>
<text x="78" y="1485.9" font-size="10.4" textLength="11.7" lengthAdjust="spacingAndGlyphs">1.0</text>
<text x="77.3" y="1549.5" font-size="10.4" textLength="12.4" lengthAdjust="spacingAndGlyphs">0.1</text>
<text x="74.6" y="1597.9" font-size="10.4" textLength="15.8" lengthAdjust="spacingAndGlyphs">0.01</text>
<text x="93.5" y="1607.6" font-size="10.4" textLength="12.2" lengthAdjust="spacingAndGlyphs">0.4</text>
<text x="122.5" y="1607.6" font-size="10.4" textLength="12.1" lengthAdjust="spacingAndGlyphs">0.6</text>
<text x="150.7" y="1608.6" font-size="10.4" textLength="11.6" lengthAdjust="spacingAndGlyphs">0.8</text>
<text x="179.5" y="1608.6" font-size="10.4" textLength="11.6" lengthAdjust="spacingAndGlyphs">1.0</text>
<text x="208.6" y="1608.6" font-size="10.4" textLength="11.8" lengthAdjust="spacingAndGlyphs">1.2</text>
<text x="238" y="1608.6" font-size="10.4" textLength="11.8" lengthAdjust="spacingAndGlyphs">1.4</text>
<text x="266.5" y="1608.6" font-size="10.4" textLength="11.9" lengthAdjust="spacingAndGlyphs">1.6</text>
<text x="79" y="1625.6" font-size="10.4" textLength="206" lengthAdjust="spacingAndGlyphs">INSTANTANEOUS FORWARD VOLTAGE,VOLTS</text>
<text x="66.3" y="1582.1" font-size="10.2" textLength="93.2" lengthAdjust="spacingAndGlyphs" transform="rotate(-90 66.3 1582.1)">INSTANTANEOUS</text>
<text x="66.3" y="1481.2" font-size="10.2" textLength="49.4" lengthAdjust="spacingAndGlyphs" transform="rotate(-90 66.3 1481.2)">FORWARD</text>
<text x="66.3" y="1424" font-size="10.2" textLength="49.4" lengthAdjust="spacingAndGlyphs" transform="rotate(-90 66.3 1424)">CURRENT</text>
<text x="66.3" y="1371.1" font-size="10.2" textLength="17.6" lengthAdjust="spacingAndGlyphs" transform="rotate(-90 66.3 1371.1)">,(A)</text>
</g>
<g id="fig4">
<text x="431.1" y="1350.7" font-size="10.4" textLength="199.9" lengthAdjust="spacingAndGlyphs">FIG.4-TYPICAL REVERSE CHARACTERISTICS</text>
<rect x="427.6" y="1436.7" width="206.9" height="1" fill="#9a9a9a"/>
<rect x="427.6" y="1505.2" width="206.9" height="1" fill="#9a9a9a"/>
<line x1="427.6" y1="1370.3" x2="634.5" y2="1370.3" stroke="#111" stroke-width="1.15"/>
<line x1="427.6" y1="1373.1" x2="634.5" y2="1373.1" stroke="#111" stroke-width="1.15"/>
<line x1="427.6" y1="1376.1" x2="634.5" y2="1376.1" stroke="#111" stroke-width="1.15"/>
<line x1="427.6" y1="1379.6" x2="634.5" y2="1379.6" stroke="#111" stroke-width="1.15"/>
<line x1="427.6" y1="1383.5" x2="634.5" y2="1383.5" stroke="#111" stroke-width="1.15"/>
<line x1="427.6" y1="1388.1" x2="634.5" y2="1388.1" stroke="#111" stroke-width="1.15"/>
<line x1="427.6" y1="1394.6" x2="634.5" y2="1394.6" stroke="#111" stroke-width="1.15"/>
<line x1="427.6" y1="1404.9" x2="634.5" y2="1404.9" stroke="#111" stroke-width="1.15"/>
<line x1="427.6" y1="1418.3" x2="634.5" y2="1418.3" stroke="#111" stroke-width="1.15"/>
<line x1="427.6" y1="1438.9" x2="634.5" y2="1438.9" stroke="#111" stroke-width="1.15"/>
<line x1="427.6" y1="1441.1" x2="634.5" y2="1441.1" stroke="#111" stroke-width="1.15"/>
<line x1="427.6" y1="1444.1" x2="634.5" y2="1444.1" stroke="#111" stroke-width="1.15"/>
<line x1="427.6" y1="1447.6" x2="634.5" y2="1447.6" stroke="#111" stroke-width="1.15"/>
<line x1="427.6" y1="1451.1" x2="634.5" y2="1451.1" stroke="#111" stroke-width="1.15"/>
<line x1="427.6" y1="1456.3" x2="634.5" y2="1456.3" stroke="#111" stroke-width="1.15"/>
<line x1="427.6" y1="1462.7" x2="634.5" y2="1462.7" stroke="#111" stroke-width="1.15"/>
<line x1="427.6" y1="1472.9" x2="634.5" y2="1472.9" stroke="#111" stroke-width="1.15"/>
<line x1="427.6" y1="1487.6" x2="634.5" y2="1487.6" stroke="#111" stroke-width="1.15"/>
<line x1="427.6" y1="1507.6" x2="634.5" y2="1507.6" stroke="#111" stroke-width="1.15"/>
<line x1="427.6" y1="1509.8" x2="634.5" y2="1509.8" stroke="#111" stroke-width="1.15"/>
<line x1="427.6" y1="1512.7" x2="634.5" y2="1512.7" stroke="#111" stroke-width="1.15"/>
<line x1="427.6" y1="1515.7" x2="634.5" y2="1515.7" stroke="#111" stroke-width="1.15"/>
<line x1="427.6" y1="1519.6" x2="634.5" y2="1519.6" stroke="#111" stroke-width="1.15"/>
<line x1="427.6" y1="1525.3" x2="634.5" y2="1525.3" stroke="#111" stroke-width="1.15"/>
<line x1="427.6" y1="1531.2" x2="634.5" y2="1531.2" stroke="#111" stroke-width="1.15"/>
<line x1="427.6" y1="1541.9" x2="634.5" y2="1541.9" stroke="#111" stroke-width="1.15"/>
<line x1="427.6" y1="1555.3" x2="634.5" y2="1555.3" stroke="#111" stroke-width="1.15"/>
<line x1="427.6" y1="1574.9" x2="634.5" y2="1574.9" stroke="#111" stroke-width="1.15"/>
<line x1="427.6" y1="1370.3" x2="427.6" y2="1574.9" stroke="#111" stroke-width="1.3"/>
<line x1="457.16" y1="1370.3" x2="457.16" y2="1574.9" stroke="#111" stroke-width="1.3"/>
<line x1="486.71" y1="1370.3" x2="486.71" y2="1574.9" stroke="#111" stroke-width="1.3"/>
<line x1="516.27" y1="1370.3" x2="516.27" y2="1574.9" stroke="#111" stroke-width="1.3"/>
<line x1="545.83" y1="1370.3" x2="545.83" y2="1574.9" stroke="#111" stroke-width="1.3"/>
<line x1="575.39" y1="1370.3" x2="575.39" y2="1574.9" stroke="#111" stroke-width="1.3"/>
<line x1="604.94" y1="1370.3" x2="604.94" y2="1574.9" stroke="#111" stroke-width="1.3"/>
<line x1="634.5" y1="1370.3" x2="634.5" y2="1574.9" stroke="#111" stroke-width="1.3"/>
<rect x="533" y="1504.1" width="52.6" height="15.6" fill="#fff"/>
<text x="544.1" y="1513.8" font-size="9.2">T</text>
<text x="548.9" y="1513.8" font-size="6.4">J</text>
<text x="552.3" y="1513.8" font-size="9.2" textLength="22.3" lengthAdjust="spacingAndGlyphs">=25°C</text>
<path d="M427.6 1574.9 C428.5 1574.35 431.07 1572.72 433 1571.6 C434.93 1570.48 436.7 1569.5 439.2 1568.2 C441.7 1566.9 444.93 1565.18 448 1563.8 C451.07 1562.42 454.08 1561 457.6 1559.9 C461.12 1558.8 464.1 1557.9 469.1 1557.2 C474.1 1556.5 479.52 1556.3 487.6 1555.7 C495.68 1555.1 507.92 1554.25 517.6 1553.6 C527.28 1552.95 536.2 1552.53 545.7 1551.8 C555.2 1551.07 567.1 1550.07 574.6 1549.2 C582.1 1548.33 586.67 1547.5 590.7 1546.6 C594.73 1545.7 596.5 1545.15 598.8 1543.8 C601.1 1542.45 602.78 1540.82 604.5 1538.5 C606.22 1536.18 607.75 1533.25 609.1 1529.9 C610.45 1526.55 611.72 1522.62 612.6 1518.4 C613.48 1514.18 613.9 1510.37 614.4 1504.6 C614.9 1498.83 615.27 1490.9 615.6 1483.8 C615.93 1476.7 615.93 1472.27 616.4 1462 C616.87 1451.73 617.62 1437.48 618.4 1422.2 C619.18 1406.92 620.65 1378.95 621.1 1370.3" fill="none" stroke="#0a0a0a" stroke-width="2"/>
<text x="411" y="1373.8" font-size="10.4" textLength="10.2" lengthAdjust="spacingAndGlyphs">10</text>
<text x="411" y="1441.8" font-size="10.4" textLength="10.9" lengthAdjust="spacingAndGlyphs">1.0</text>
<text x="410.3" y="1510.8" font-size="10.4" textLength="10.9" lengthAdjust="spacingAndGlyphs">0.1</text>
<text x="409.7" y="1577.9" font-size="10.4" textLength="16.3" lengthAdjust="spacingAndGlyphs">0.01</text>
<text x="427.2" y="1589.9" font-size="10.4" textLength="4.7" lengthAdjust="spacingAndGlyphs">0</text>
<text x="451.8" y="1588.7" font-size="10.4" textLength="10.9" lengthAdjust="spacingAndGlyphs">20</text>
<text x="481.4" y="1588.7" font-size="10.4" textLength="10.8" lengthAdjust="spacingAndGlyphs">40</text>
<text x="511.8" y="1588.7" font-size="10.4" textLength="10.5" lengthAdjust="spacingAndGlyphs">60</text>
<text x="540.4" y="1588.7" font-size="10.4" textLength="11.1" lengthAdjust="spacingAndGlyphs">80</text>
<text x="566" y="1588.7" font-size="10.4" textLength="14.4" lengthAdjust="spacingAndGlyphs">100</text>
<text x="595.8" y="1588.7" font-size="10.4" textLength="14.5" lengthAdjust="spacingAndGlyphs">120</text>
<text x="624.6" y="1588.7" font-size="10.4" textLength="15.3" lengthAdjust="spacingAndGlyphs">140</text>
<text x="433.2" y="1621.7" font-size="10.4" textLength="211.7" lengthAdjust="spacingAndGlyphs">PERCENT OF RATED PEAK REVERSE VOLTAGE</text>
<text x="387.1" y="1578.6" font-size="10.2" textLength="92.8" lengthAdjust="spacingAndGlyphs" transform="rotate(-90 387.1 1578.6)">INSTANTANEOUS</text>
<text x="387.1" y="1478.5" font-size="10.2" textLength="46.3" lengthAdjust="spacingAndGlyphs" transform="rotate(-90 387.1 1478.5)">REVERSE</text>
<text x="387.1" y="1420.3" font-size="10.2" textLength="49.7" lengthAdjust="spacingAndGlyphs" transform="rotate(-90 387.1 1420.3)">CURRENT,</text>
<text x="399.2" y="1514.3" font-size="10.2" textLength="82.8" lengthAdjust="spacingAndGlyphs" transform="rotate(-90 399.2 1514.3)">MICROAMPERES</text>
</g>
</svg>
</body>
</html>
